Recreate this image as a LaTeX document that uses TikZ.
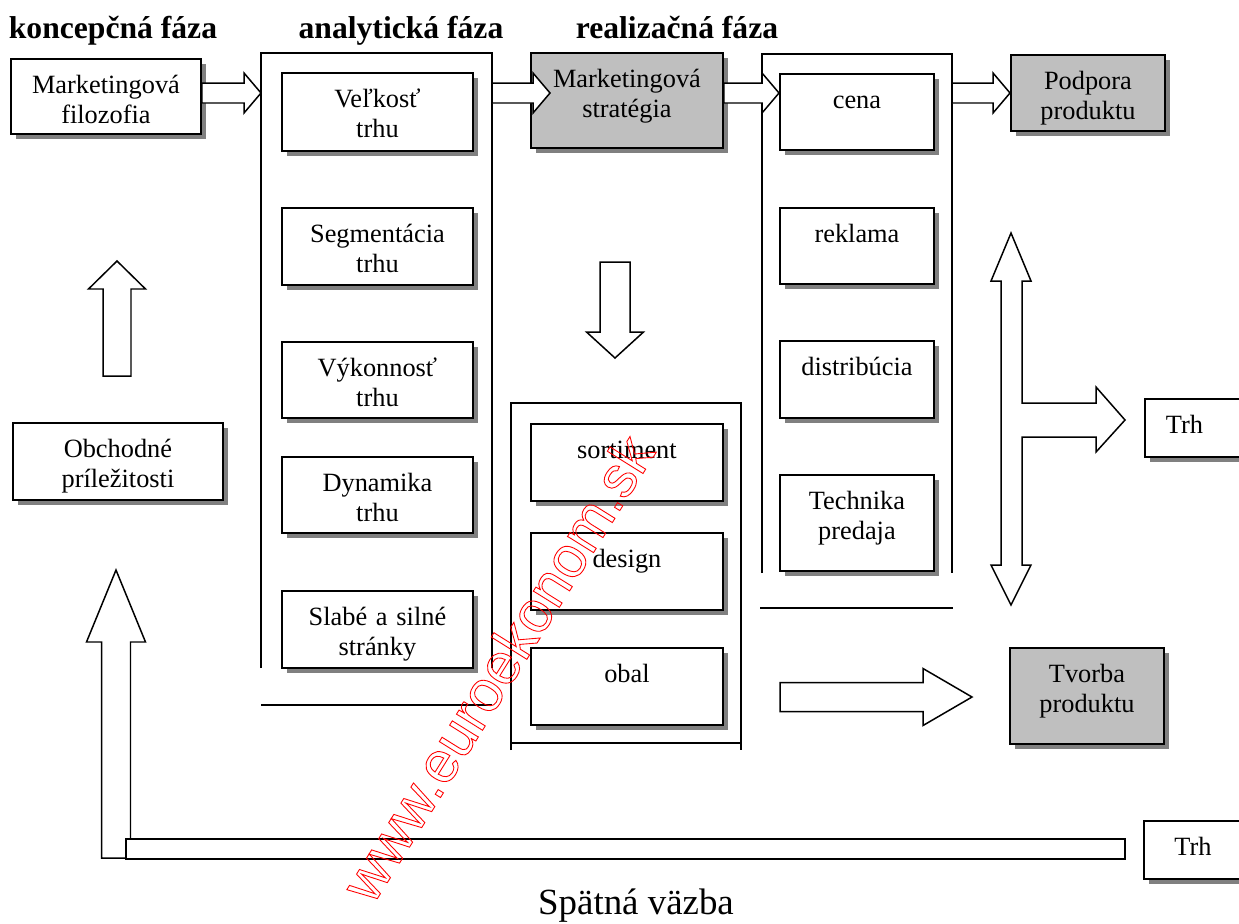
\documentclass[tikz,border=0pt]{standalone}
\usepackage{fontspec}
\setmainfont{Liberation Serif}
\newfontfamily\wmfont{Liberation Sans}
\usetikzlibrary{calc,shadows}
\def\fatarrow[#1](#2)(#3)(#4:#5:#6){\coordinate (fa-base) at ($(#3)!#6!(#2)$); \draw[#1] ($(#2)!#4!90:(#3)$) -- ($(fa-base)!#4!90:(#3)$) -- ($(fa-base)!#5!90:(#3)$) -- (#3) -- ($(fa-base)!#5!-90:(#3)$) -- ($(fa-base)!#4!-90:(#3)$) -- ($(#2)!#4!-90:(#3)$) -- cycle;}
\tikzset{
	box/.style={draw, line width=1.1pt, fill=white, anchor=north west, align=center, inner sep=0pt,
		text height=0.69cm, font=\fontsize{15}{17}\selectfont,
		drop shadow={shadow xshift=0.1cm, shadow yshift=-0.1cm, fill=black!50, opacity=1}},
	gbox/.style={box, fill=black!25},
	title/.style={anchor=base, font=\fontsize{18}{20}\selectfont\bfseries},
	frame/.style={line width=0.85pt},
	fat/.style={draw, fill=white, line width=0.85pt, line join=miter}
}

\begin{document}
\begin{tikzpicture}[x=0.02cm,y=-0.02cm]
			%%%%% START %%%%%
			\useasboundingbox (0,0) rectangle (1239,923);
			
			\node[title] (tK) at (113,38) {koncepčná fáza};
			\node[title] (tA) at (401,38) {analytická fáza};
			\node[title] (tR) at (677,38) {realizačná fáza};
			
			% ramy
			\coordinate (aTL) at (261,53);
			\coordinate (aTR) at (492,53);
			\coordinate (bTL) at (762,54);
			\coordinate (bTR) at (952,54);
			\coordinate (cTL) at (511,403);
			\coordinate (cTR) at (741,403);
			\draw[frame] ($(aTL)+(0,615)$) -- (aTL) -- (aTR) -- ($(aTR)+(0,615)$);
			\draw[frame] ($(aTL)+(0,652)$) -- ($(aTR)+(0,652)$);
			\draw[frame] ($(bTL)+(0,519)$) -- (bTL) -- (bTR) -- ($(bTR)+(0,519)$);
			\draw[frame] ($(bTL)+(-2,554)$) -- ($(bTR)+(1,554)$);
			\draw[frame] ($(cTL)+(0,347)$) -- (cTL) -- (cTR) -- ($(cTR)+(0,347)$);
			\draw[frame] ($(cTL)+(0,340)$) -- ($(cTR)+(0,340)$);
			
			\node[box, text width=3.8cm, text depth=0.81cm] (filo) at (10,58) {Marketingová\\filozofia};
			\node[box, text width=4.2cm, text depth=0.85cm] (obch) at (12,422) {Obchodné\\príležitosti};
			
			\node[box, text width=3.82cm, text depth=0.87cm] (velk) at (281,72) {Veľkosť\\trhu};
			\node[box, text width=3.82cm, text depth=0.85cm] (segm) at (281,207) {Segmentácia\\trhu};
			\node[box, text width=3.82cm, text depth=0.83cm] (vykon) at (281,341) {Výkonnosť\\trhu};
			\node[box, text width=3.82cm, text depth=0.83cm] (dynam) at (281,456) {Dynamika\\trhu};
			\node[box, text width=3.82cm, text depth=0.85cm] (slabe) at (281,590) {Slabé a silné\\stránky};
			
			\node[gbox, text width=3.84cm, text depth=1.21cm] (strat) at (530,52) {Marketingová\\stratégia};
			\node[box, text width=3.84cm, text depth=0.85cm] (sort) at (530,423) {sortiment};
			\node[box, text width=3.84cm, text depth=0.85cm] (desg) at (530,532) {design};
			\node[box, text width=3.84cm, text depth=0.85cm] (obal) at (530,647) {obal};
			
			\node[box, text width=3.08cm, text depth=0.83cm] (cena) at (779,73) {cena};
			\node[box, text width=3.08cm, text depth=0.83cm] (rekl) at (779,207) {reklama};
			\node[box, text width=3.08cm, text depth=0.85cm] (distr) at (779,340) {distribúcia};
			\node[box, text width=3.08cm, text depth=1.23cm] (techn) at (779,474) {Technika\\predaja};
			
			\node[gbox, text width=3.08cm, text depth=0.83cm] (podp) at (1010,54) {Podpora\\produktu};
			\node[gbox, text width=3.08cm, text depth=1.23cm] (tvorba) at (1009,647) {Tvorba\\produktu};
			\node[box, inner xsep=0.42cm, text width=2cm, text depth=0.47cm, align=left] (trhA) at (1144,398) {Trh};
			\node[box, text width=1.96cm, text depth=0.47cm] (trhB) at (1143,820) {Trh};
			
			% sipky hore
			\coordinate (row) at (0,93);
			\coordinate (s1) at (filo.east |- row);
			\coordinate (e1) at (aTL |- row);
			\coordinate (s2) at (aTR |- row);
			\coordinate (e2) at ($(strat.west |- row)+(20,0)$);
			\coordinate (s3) at (strat.east |- row);
			\coordinate (e3) at (cena.west |- row);
			\coordinate (s4) at (bTR |- row);
			\coordinate (e4) at (podp.west |- row);
			\fatarrow[fat](s1)(e1)(0.2cm:0.4cm:0.34cm)
			\fatarrow[fat](s2)(e2)(0.2cm:0.4cm:0.34cm)
			\fatarrow[fat](s3)(e3)(0.2cm:0.4cm:0.34cm)
			\fatarrow[fat](s4)(e4)(0.2cm:0.4cm:0.34cm)
			
			\coordinate (upS) at (117,376);
			\coordinate (upE) at (117,261);
			\fatarrow[fat](upS)(upE)(0.28cm:0.57cm:0.56cm)
			
			\coordinate (dnS) at (615,262);
			\coordinate (dnE) at (615,358);
			\fatarrow[fat](dnS)(dnE)(0.3cm:0.57cm:0.52cm)
			
			\coordinate (tvS) at (780,697);
			\coordinate (tvE) at ($(tvorba.west |- tvS)+(-37,0)$);
			\fatarrow[fat](tvS)(tvE)(0.29cm:0.57cm:0.98cm)
			
			% trh - obojsmerna
			\draw[fat] (1011,233) -- (1031,281) -- (1022,281) -- (1022,403) -- (1096,403) -- (1096,387)
				-- (1125,420) -- (1096,452) -- (1096,437) -- (1022,437) -- (1022,565) -- (1031,565)
				-- (1011,605) -- (991,565) -- (1001,565) -- (1001,281) -- (991,281) -- cycle;
			
			% spatna vazba
			\coordinate (fbS) at (116,858);
			\coordinate (fbE) at (116,570);
			\fatarrow[fat](fbS)(fbE)(0.29cm:0.59cm:1.44cm)
			\draw[fat] (126,839) rectangle ($(trhB.west |- 0,859)+(-18,0)$);
			\node[anchor=base, font=\fontsize{21}{24}\selectfont] (spat) at (636,914) {Spätná väzba};
			
			\node[rotate=58, text=red, font=\wmfont\fontsize{33}{36}\selectfont] (wm) at (497,668)
				{\special{pdf:literal direct 1 Tr 0.5 w}www.euroekonom.sk\special{pdf:literal direct 0 Tr}};
			%%%%% END %%%%%
\end{tikzpicture}
\end{document}
